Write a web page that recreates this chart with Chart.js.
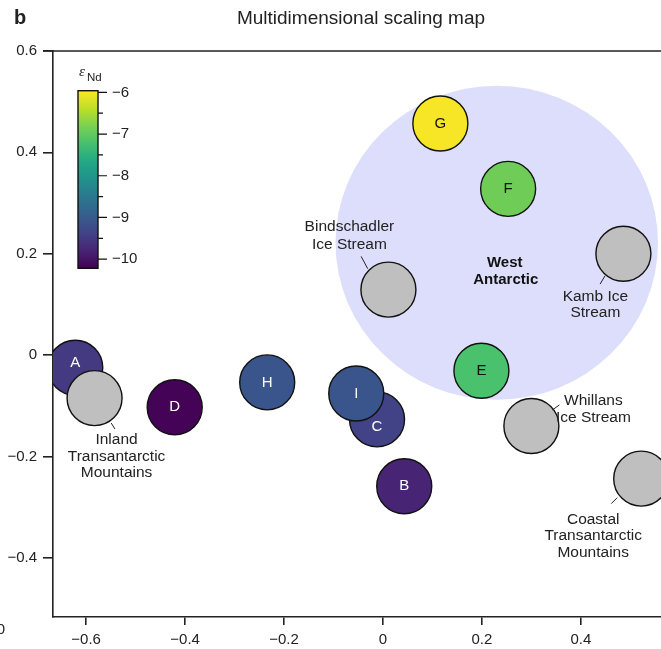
<!DOCTYPE html>
<html>
<head>
<meta charset="utf-8">
<script src="https://cdn.jsdelivr.net/npm/chart.js@4.4.1/dist/chart.umd.min.js"></script>
<style>
    html, body { margin: 0; padding: 0; background: #fff; }
    #wrap { width: 661px; height: 649px; }
</style>
</head>
<body>
<div id="wrap"><canvas id="mdsChart" width="661" height="649"></canvas></div>
<script>
// Muestras (círculos con letra) coloreadas por eNd
var sampleNames = ['A', 'D', 'H', 'C', 'I', 'B', 'E', 'F', 'G'];
var sampleX = [-0.622, -0.421, -0.234, -0.012, -0.054, 0.043, 0.199, 0.253, 0.116];
var sampleY = [-0.025, -0.103, -0.054, -0.127, -0.076, -0.259, -0.031, 0.328, 0.457];
var sampleEnd = [-9.5, -10.2, -9.1, -9.4, -9.1, -9.8, -7.2, -6.9, -6.0];

// Áreas fuente (círculos grises)
var sourceNames = [
    ['Inland', 'Transantarctic', 'Mountains'],
    ['Bindschadler', 'Ice Stream'],
    ['Kamb Ice', 'Stream'],
    ['Whillans', 'Ice Stream'],
    ['Coastal', 'Transantarctic', 'Mountains']
];
var sourceX = [-0.583, 0.011, 0.486, 0.300, 0.522];
var sourceY = [-0.085, 0.129, 0.200, -0.140, -0.244];

// Región West Antarctic
var regionName = ['West', 'Antarctic'];
var regionCenter = [0.230, 0.2215];
var regionRadius = [0.326, 0.310];

// Ejes
var xRange = [-0.667, 0.562];
var yRange = [-0.517, 0.6];
var xTicks = [-0.6, -0.4, -0.2, 0, 0.2, 0.4];
var yTicks = [-0.4, -0.2, 0, 0.2, 0.4, 0.6];

// Barra de color eNd
var cbarTicks = [-6, -7, -8, -9, -10];
var cbarMinor = [-6.5, -7.5, -8.5, -9.5];
var cbarRange = [-10.22, -5.96];

var FONT = '"Liberation Sans", Arial, Helvetica, sans-serif';
var INK = '#222';

// Paleta viridis
var viridis = ['#440154', '#482475', '#414487', '#355f8d', '#2a788e', '#21918c',
               '#22a884', '#44bf70', '#7ad151', '#bddf26', '#fde725'];

function hexToRgb(h) {
    return [parseInt(h.substr(1, 2), 16), parseInt(h.substr(3, 2), 16), parseInt(h.substr(5, 2), 16)];
}

function viridisAt(t) {
    t = Math.max(0, Math.min(1, t));
    var p = t * 10;
    var i = Math.min(9, Math.floor(p));
    var f = p - i;
    var a = hexToRgb(viridis[i]), b = hexToRgb(viridis[i + 1]);
    var c = a.map(function (v, k) { return Math.round(v + (b[k] - v) * f); });
    return 'rgb(' + c.join(',') + ')';
}

function endToT(v) {
    return (v - cbarRange[0]) / (cbarRange[1] - cbarRange[0]);
}

function fmtTick(v) {
    if (Math.abs(v) < 1e-9) return '0';
    return v.toFixed(1).replace('-', '\u2212');
}

var sampleColors = sampleEnd.map(function (v) { return viridisAt(endToT(v)); });

// Desplazamientos de las etiquetas de las fuentes (px relativos al círculo)
var sourceLayout = [
    { dx: 22, dy: [42, 58.5, 75], lead: [[16.7, 25], [20.4, 31]] },
    { dx: -39, dy: [-63, -45], lead: [[-27.3, -33.3], [-20.7, -21]] },
    { dx: -28, dy: [43.5, 59.5], lead: [[-18.3, 22], [-23.3, 30.4]] },
    { dx: 62, dy: [-25, -8], lead: [[21, -16], [28, -21]] },
    { dx: -48, dy: [41, 57.5, 74], lead: [[-24, 19], [-30, 25]] }
];
var labelNudge = { A: -5, C: 7 };

// Región sombreada y texto, antes de los puntos
var regionPlugin = {
    id: 'region',
    beforeDatasetsDraw: function (chart) {
        var ctx = chart.ctx, xs = chart.scales.x, ys = chart.scales.y;
        var cx = xs.getPixelForValue(regionCenter[0]);
        var cy = ys.getPixelForValue(regionCenter[1]);
        var rx = xs.getPixelForValue(regionCenter[0] + regionRadius[0]) - cx;
        var ry = cy - ys.getPixelForValue(regionCenter[1] + regionRadius[1]);
        ctx.save();
        ctx.fillStyle = 'rgb(221,222,252)';
        ctx.beginPath();
        ctx.ellipse(cx, cy, rx, ry, 0, 0, Math.PI * 2);
        ctx.fill();
        ctx.fillStyle = '#111';
        ctx.font = 'bold 15px ' + FONT;
        ctx.textAlign = 'center';
        ctx.textBaseline = 'middle';
        ctx.fillText(regionName[0], cx + 8, cy + 20);
        ctx.fillText(regionName[1], cx + 9, cy + 37);
        ctx.restore();
    }
};

// Letras dentro de las muestras y etiquetas de las fuentes
var labelPlugin = {
    id: 'labels',
    afterDatasetsDraw: function (chart) {
        var ctx = chart.ctx;
        var sMeta = chart.getDatasetMeta(1);
        var gMeta = chart.getDatasetMeta(0);
        ctx.save();
        ctx.textAlign = 'center';
        ctx.textBaseline = 'middle';
        ctx.font = '15px ' + FONT;
        sMeta.data.forEach(function (pt, i) {
            var name = sampleNames[i];
            ctx.fillStyle = endToT(sampleEnd[i]) > 0.5 ? '#111' : '#fff';
            ctx.fillText(name, pt.x, pt.y + (labelNudge[name] || 0));
        });
        ctx.fillStyle = INK;
        ctx.strokeStyle = INK;
        ctx.lineWidth = 1;
        ctx.font = '15.5px ' + FONT;
        gMeta.data.forEach(function (pt, i) {
            var L = sourceLayout[i];
            sourceNames[i].forEach(function (line, k) {
                ctx.fillText(line, pt.x + L.dx, pt.y + L.dy[k]);
            });
            ctx.beginPath();
            ctx.moveTo(pt.x + L.lead[0][0], pt.y + L.lead[0][1]);
            ctx.lineTo(pt.x + L.lead[1][0], pt.y + L.lead[1][1]);
            ctx.stroke();
        });
        ctx.restore();
    }
};

// Marco superior, barra de color, título
var framePlugin = {
    id: 'frame',
    afterDraw: function (chart) {
        var ctx = chart.ctx, area = chart.chartArea;
        ctx.save();
        ctx.strokeStyle = INK;
        ctx.lineWidth = 1.6;
        ctx.beginPath();
        ctx.moveTo(area.left - 10, area.top);
        ctx.lineTo(chart.width, area.top);
        ctx.stroke();

        // barra de color
        var bx = 78, bw = 20, bTop = 90.7, bBot = 268.3;
        var toY = function (v) { return bBot - (v - cbarRange[0]) / (cbarRange[1] - cbarRange[0]) * (bBot - bTop); };
        var grad = ctx.createLinearGradient(0, bBot, 0, bTop);
        viridis.forEach(function (c, i) { grad.addColorStop(i / 10, c); });
        ctx.fillStyle = grad;
        ctx.fillRect(bx, bTop, bw, bBot - bTop);
        ctx.lineWidth = 1.4;
        ctx.strokeStyle = '#111';
        ctx.strokeRect(bx, bTop, bw, bBot - bTop);
        ctx.lineWidth = 1.2;
        ctx.beginPath();
        cbarTicks.forEach(function (v) {
            ctx.moveTo(bx + bw, toY(v));
            ctx.lineTo(bx + bw + 9, toY(v));
        });
        cbarMinor.forEach(function (v) {
            ctx.moveTo(bx + bw, toY(v));
            ctx.lineTo(bx + bw + 5, toY(v));
        });
        ctx.stroke();
        ctx.fillStyle = INK;
        ctx.font = '15px ' + FONT;
        ctx.textAlign = 'left';
        ctx.textBaseline = 'middle';
        cbarTicks.forEach(function (v) {
            ctx.fillText(String(v).replace('-', '\u2212'), bx + bw + 14, toY(v));
        });
        ctx.font = 'italic 15px "Liberation Serif", serif';
        ctx.textAlign = 'left';
        ctx.fillText('\u03b5', 79, 72);
        ctx.font = '11.5px ' + FONT;
        ctx.fillText('Nd', 87, 78);

        // título
        ctx.font = '19px ' + FONT;
        ctx.textAlign = 'center';
        ctx.fillText('Multidimensional scaling map', 361, 19);
        ctx.font = 'bold 20px ' + FONT;
        ctx.textAlign = 'left';
        ctx.fillText('b', 14, 18);
        ctx.font = '15px ' + FONT;
        ctx.textAlign = 'right';
        ctx.fillText('0', 5, 630);
        ctx.restore();
    }
};

function axisOptions(range, ticks, isX) {
    return {
        type: 'linear',
        min: range[0],
        max: range[1],
        afterBuildTicks: function (scale) {
            scale.ticks = ticks.map(function (v) { return { value: v }; });
        },
        afterFit: function (scale) {
            if (isX) { scale.height = 32; } else { scale.width = 53; }
            scale.paddingLeft = 0;
            scale.paddingRight = 0;
            scale.paddingTop = 0;
            scale.paddingBottom = 0;
        },
        border: { display: true, color: INK, width: 1.6 },
        grid: {
            display: true,
            drawOnChartArea: false,
            drawTicks: true,
            tickLength: isX ? 8 : 10,
            color: INK,
            lineWidth: 1.6
        },
        ticks: {
            color: INK,
            padding: 6,
            font: { family: FONT, size: 15 },
            callback: function (v) { return fmtTick(v); }
        }
    };
}

var ctx = document.getElementById('mdsChart').getContext('2d');
var chart = new Chart(ctx, {
    type: 'scatter',
    data: {
        datasets: [{
            label: 'Sources',
            data: sourceX.map(function (x, i) { return { x: x, y: sourceY[i] }; }),
            backgroundColor: '#bfbfbf',
            borderColor: '#111',
            borderWidth: 1.4,
            pointRadius: 27.5,
            pointHoverRadius: 27.5,
            order: 1
        }, {
            label: 'Samples',
            data: sampleX.map(function (x, i) { return { x: x, y: sampleY[i] }; }),
            backgroundColor: sampleColors,
            borderColor: '#111',
            borderWidth: 1.4,
            pointRadius: 27.5,
            pointHoverRadius: 27.5,
            order: 2
        }]
    },
    options: {
        responsive: false,
        animation: false,
        events: [],
        layout: { autoPadding: false, padding: { top: 51, left: 0, right: 0, bottom: 0 } },
        scales: {
            x: axisOptions(xRange, xTicks, true),
            y: axisOptions(yRange, yTicks, false)
        },
        plugins: {
            legend: { display: false },
            tooltip: { enabled: false }
        }
    },
    plugins: [regionPlugin, labelPlugin, framePlugin]
});
</script>
</body>
</html>
